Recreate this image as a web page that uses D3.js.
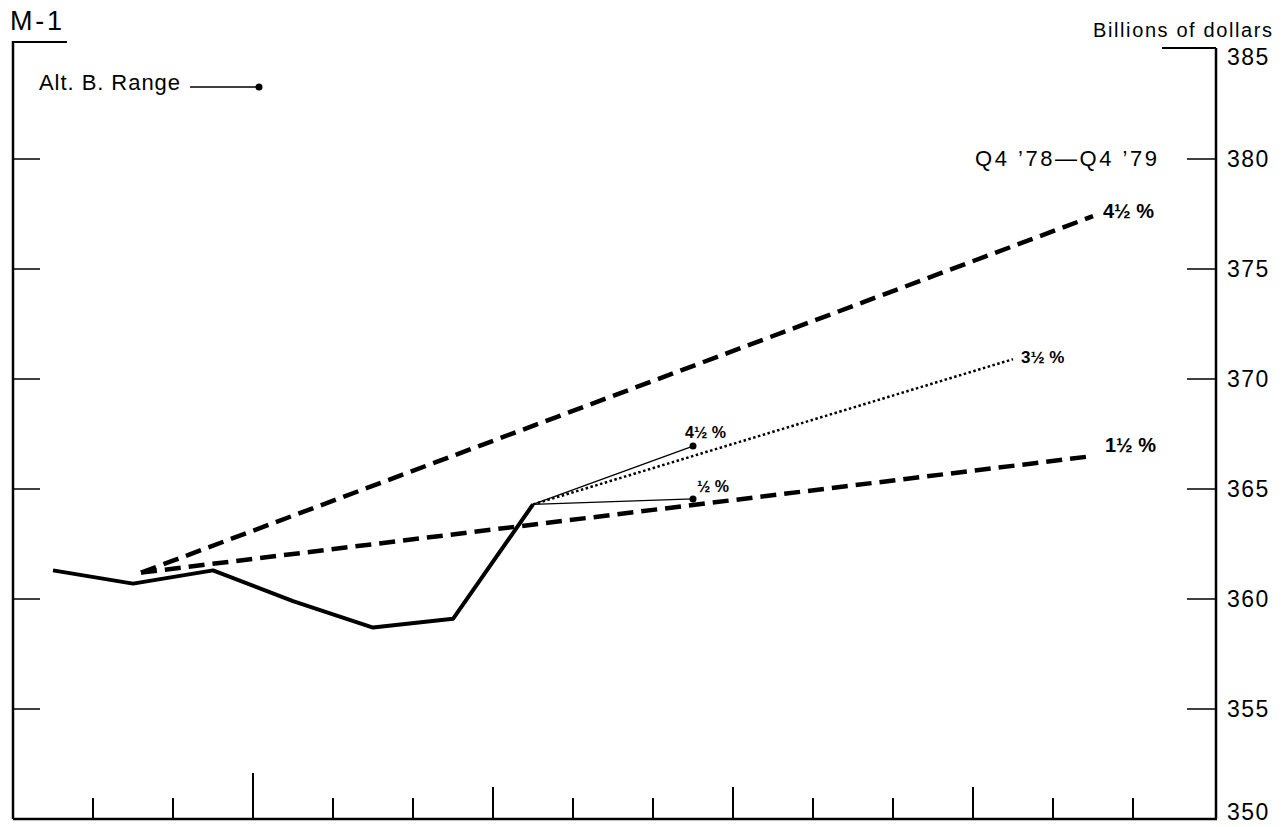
<!DOCTYPE html>
<html><head><meta charset="utf-8">
<script src="https://cdn.jsdelivr.net/npm/d3@7"></script>
<style>body{margin:0;background:#fff}svg{display:block}text{font-family:"Liberation Sans",Arial,sans-serif;fill:#000}</style>
</head><body><svg id="c" width="1287" height="827"></svg>
<script>
// Data (month index: 0 = left edge of chart; month centers at .5)
const actualMonths = [0.5, 1.5, 2.5, 3.5, 4.5, 5.5, 6.5];
const actualValues = [361.3, 360.7, 361.3, 359.9, 358.7, 359.1, 364.3];
const baseMonth = 1.6, baseValue = 361.2;
const longRanges = [ {label:"4\u00bd %", endMonth:13.5, endValue:377.4}, {label:"1\u00bd %", endMonth:13.5, endValue:366.5} ];
const midPath = {label:"3\u00bd %", startMonth:6.5, startValue:364.3, endMonth:12.5, endValue:370.9};
const shortRanges = [ {label:"4\u00bd %", endMonth:8.5, endValue:366.95}, {label:"\u00bd %", endMonth:8.5, endValue:364.55} ];
const yTicks = [350, 355, 360, 365, 370, 375, 380, 385];
const xTicks = [1,2,3,4,5,6,7,8,9,10,11,12,13,14];

const svg = d3.select("#c");
const x = d3.scaleLinear().domain([0, 15]).range([13, 1213]);
const y = d3.scaleLinear().domain([350, 385]).range([819, 49]);
const L = 13, R = 1216, B = 819;

// frame
svg.append("line").attr("x1", L).attr("x2", L).attr("y1", 41).attr("y2", B).attr("stroke", "#000").attr("stroke-width", 2.5);
svg.append("line").attr("x1", L).attr("x2", 67).attr("y1", 42).attr("y2", 42).attr("stroke", "#000").attr("stroke-width", 2);
svg.append("line").attr("x1", R).attr("x2", R).attr("y1", 48).attr("y2", B).attr("stroke", "#000").attr("stroke-width", 2.5);
svg.append("line").attr("x1", 1162).attr("x2", R).attr("y1", 48).attr("y2", 48).attr("stroke", "#000").attr("stroke-width", 2);
svg.append("line").attr("x1", L).attr("x2", R + 1).attr("y1", B).attr("y2", B).attr("stroke", "#000").attr("stroke-width", 2.5);

// y ticks
const inner = yTicks.filter(v => v > 350 && v < 385);
svg.selectAll(".lt").data(inner).join("line").attr("x1", L).attr("x2", 40).attr("y1", d => y(d)).attr("y2", d => y(d)).attr("stroke", "#000").attr("stroke-width", 1.5);
svg.selectAll(".rt").data(inner).join("line").attr("x1", 1187).attr("x2", R).attr("y1", d => y(d)).attr("y2", d => y(d)).attr("stroke", "#000").attr("stroke-width", 1.5);
svg.selectAll(".yl").data(yTicks).join("text").attr("x", 1227)
  .attr("y", d => d === 385 ? y(d) + 16 : d === 350 ? y(d) + 1 : y(d) + 8)
  .attr("font-size", 23).attr("letter-spacing", 1.5).text(d => d);

// x ticks
svg.selectAll(".xt").data(xTicks).join("line")
  .attr("x1", d => x(d)).attr("x2", d => x(d)).attr("y1", B)
  .attr("y2", d => B - (d === 3 ? 46 : d % 3 === 0 ? 32 : 21))
  .attr("stroke", "#000").attr("stroke-width", 2);

// titles
svg.append("text").attr("x", 10).attr("y", 30).attr("font-size", 27).attr("textLength", 52).attr("lengthAdjust", "spacing").text("M-1");
svg.append("text").attr("x", 1093).attr("y", 37).attr("font-size", 20).attr("textLength", 179).attr("lengthAdjust", "spacing").text("Billions of dollars");
svg.append("text").attr("x", 975).attr("y", 166).attr("font-size", 22).attr("textLength", 182).attr("lengthAdjust", "spacing").text("Q4 \u201978\u2014Q4 \u201979");

// legend
svg.append("text").attr("x", 39).attr("y", 90).attr("font-size", 22).attr("textLength", 141).attr("lengthAdjust", "spacing").text("Alt. B. Range");
svg.append("line").attr("x1", 190).attr("x2", 258).attr("y1", 87).attr("y2", 87).attr("stroke", "#000").attr("stroke-width", 1.5);
svg.append("circle").attr("cx", 259).attr("cy", 87).attr("r", 3.5).attr("fill", "#000");

// long range dashed lines
longRanges.forEach(r => {
  svg.append("line").attr("x1", x(baseMonth)).attr("y1", y(baseValue)).attr("x2", x(r.endMonth)).attr("y2", y(r.endValue))
    .attr("stroke", "#000").attr("stroke-width", 4.5).attr("stroke-dasharray", "16,8");
});
svg.append("text").attr("x", x(longRanges[0].endMonth) + 10).attr("y", y(longRanges[0].endValue) + 2).attr("font-size", 20).attr("font-weight", "bold").text(longRanges[0].label);
svg.append("text").attr("x", x(longRanges[1].endMonth) + 12).attr("y", y(longRanges[1].endValue) - 4).attr("font-size", 20).attr("font-weight", "bold").text(longRanges[1].label);

// mid path dotted
svg.append("line").attr("x1", x(midPath.startMonth)).attr("y1", y(midPath.startValue)).attr("x2", x(midPath.endMonth)).attr("y2", y(midPath.endValue))
  .attr("stroke", "#000").attr("stroke-width", 2.5).attr("stroke-dasharray", "2.5,2.5");
svg.append("text").attr("x", x(midPath.endMonth) + 8).attr("y", y(midPath.endValue) + 4).attr("font-size", 17).attr("font-weight", "bold").text(midPath.label);

// short range lines
shortRanges.forEach((r, i) => {
  svg.append("line").attr("x1", x(midPath.startMonth)).attr("y1", y(midPath.startValue)).attr("x2", x(r.endMonth)).attr("y2", y(r.endValue))
    .attr("stroke", "#000").attr("stroke-width", 1.3);
  svg.append("circle").attr("cx", x(r.endMonth)).attr("cy", y(r.endValue)).attr("r", 3.5).attr("fill", "#000");
  svg.append("text").attr("x", x(r.endMonth) + (i === 0 ? -8 : 4)).attr("y", y(r.endValue) - (i === 0 ? 8 : 7)).attr("font-size", 16).attr("font-weight", "bold").text(r.label);
});

// actual series
const line = d3.line().x((d, i) => x(actualMonths[i])).y(d => y(d));
svg.append("path").attr("d", line(actualValues)).attr("fill", "none").attr("stroke", "#000").attr("stroke-width", 4).attr("stroke-linejoin", "round");
</script></body></html>
